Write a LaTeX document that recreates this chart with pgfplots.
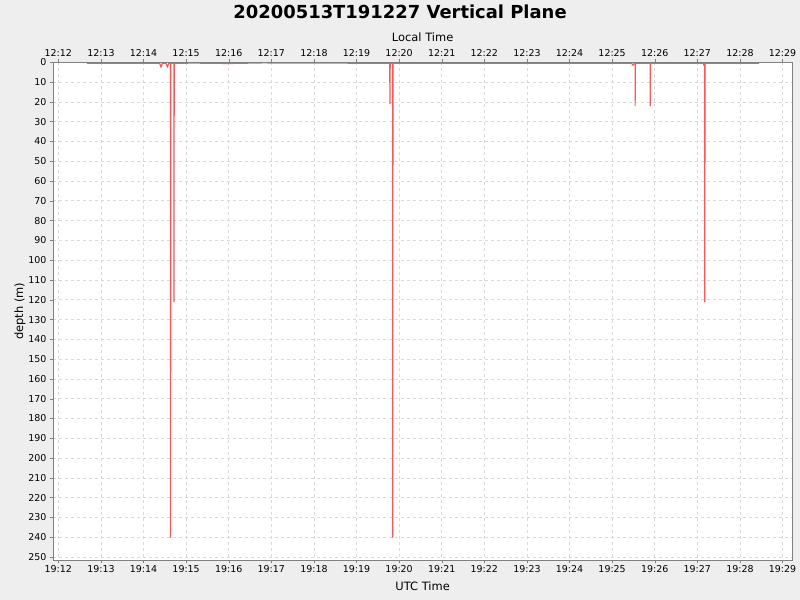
\documentclass[border=0pt]{standalone}
\usepackage{pgfplots}
\pgfplotsset{compat=1.18}
\usepackage{fontspec}
\setmainfont{DejaVu Sans}
\definecolor{bg}{HTML}{EEEEEE}
\definecolor{axgray}{HTML}{808080}
\definecolor{gridgray}{HTML}{DADADA}
\definecolor{series}{HTML}{FF5555}
\begin{document}
\begin{tikzpicture}[x=1bp,y=1bp]
\fill[bg] (0,0) rectangle (800,600);
\node[font=\bfseries\fontsize{18}{20}\selectfont] at (400,588) {20200513T191227 Vertical Plane};
\begin{axis}[
  at={(53bp,40bp)}, anchor=south west, scale only axis,
  width=739.3bp, height=497.7bp,
  xmin=-0.125, xmax=17.23, ymin=0, ymax=251.5, y dir=reverse,
  axis background/.style={fill=white},
  axis line style={axgray}, tick style={axgray, thin}, tick align=outside,
  major tick length=3bp,
  xtick={0,...,17},
  xticklabels={19:12,19:13,19:14,19:15,19:16,19:17,19:18,19:19,19:20,19:21,19:22,19:23,19:24,19:25,19:26,19:27,19:28,19:29},
  ytick={0,10,...,250},
  xtick pos=bottom, ytick pos=left,
  grid=major, major grid style={gridgray, dash pattern=on 3bp off 3bp, line width=0.7bp},
  ticklabel style={font=\fontsize{9.5}{11}\selectfont},
  /pgf/number format/assume math mode=true,
  xticklabel style={yshift=1bp},
  xlabel={UTC Time}, ylabel={depth (m)},
  label style={font=\fontsize{11.5}{13}\selectfont},
  xlabel style={yshift=-2bp},
  ylabel style={yshift=-4bp},
]
\addplot[series, line width=1.2bp, line join=round] coordinates {
(0.67,0.5) (2.38,0.5) (2.41,2.5) (2.44,0.5) (2.53,0.5) (2.56,2.5) (2.59,0.5)
(2.635,0.5) (2.635,240) (2.64,0.5)
(2.715,0.5) (2.715,121) (2.72,0.5)
(3.2,0.4) (4.0,0.6) (4.8,0.3) (7.78,0.5) (7.785,21) (7.79,0.5)
(7.85,0.5) (7.85,240) (7.855,0.5)
(13.46,0.5) (13.49,1.5) (13.52,0.5) (13.54,0.5) (13.54,21.8) (13.545,0.5)
(13.895,0.5) (13.895,22) (13.90,0.5)
(15.14,0.5) (15.155,1.5) (15.175,0.5) (15.175,121) (15.18,0.5)
(16.45,0.5)
};
\end{axis}
\begin{axis}[
  at={(53bp,40bp)}, anchor=south west, scale only axis,
  width=739.3bp, height=497.7bp,
  xmin=-0.125, xmax=17.23, ymin=0, ymax=251.5, y dir=reverse,
  axis x line*=top, axis y line=none,
  axis line style={axgray}, tick style={axgray, thin}, tick align=outside,
  major tick length=3bp,
  xtick={0,...,17},
  xticklabels={12:12,12:13,12:14,12:15,12:16,12:17,12:18,12:19,12:20,12:21,12:22,12:23,12:24,12:25,12:26,12:27,12:28,12:29},
  ticklabel style={font=\fontsize{9.5}{11}\selectfont},
  xticklabel style={yshift=-1bp},
  xlabel={Local Time},
  label style={font=\fontsize{11.5}{13}\selectfont},
  xlabel style={yshift=1bp},
]
\end{axis}
\end{tikzpicture}
\end{document}
